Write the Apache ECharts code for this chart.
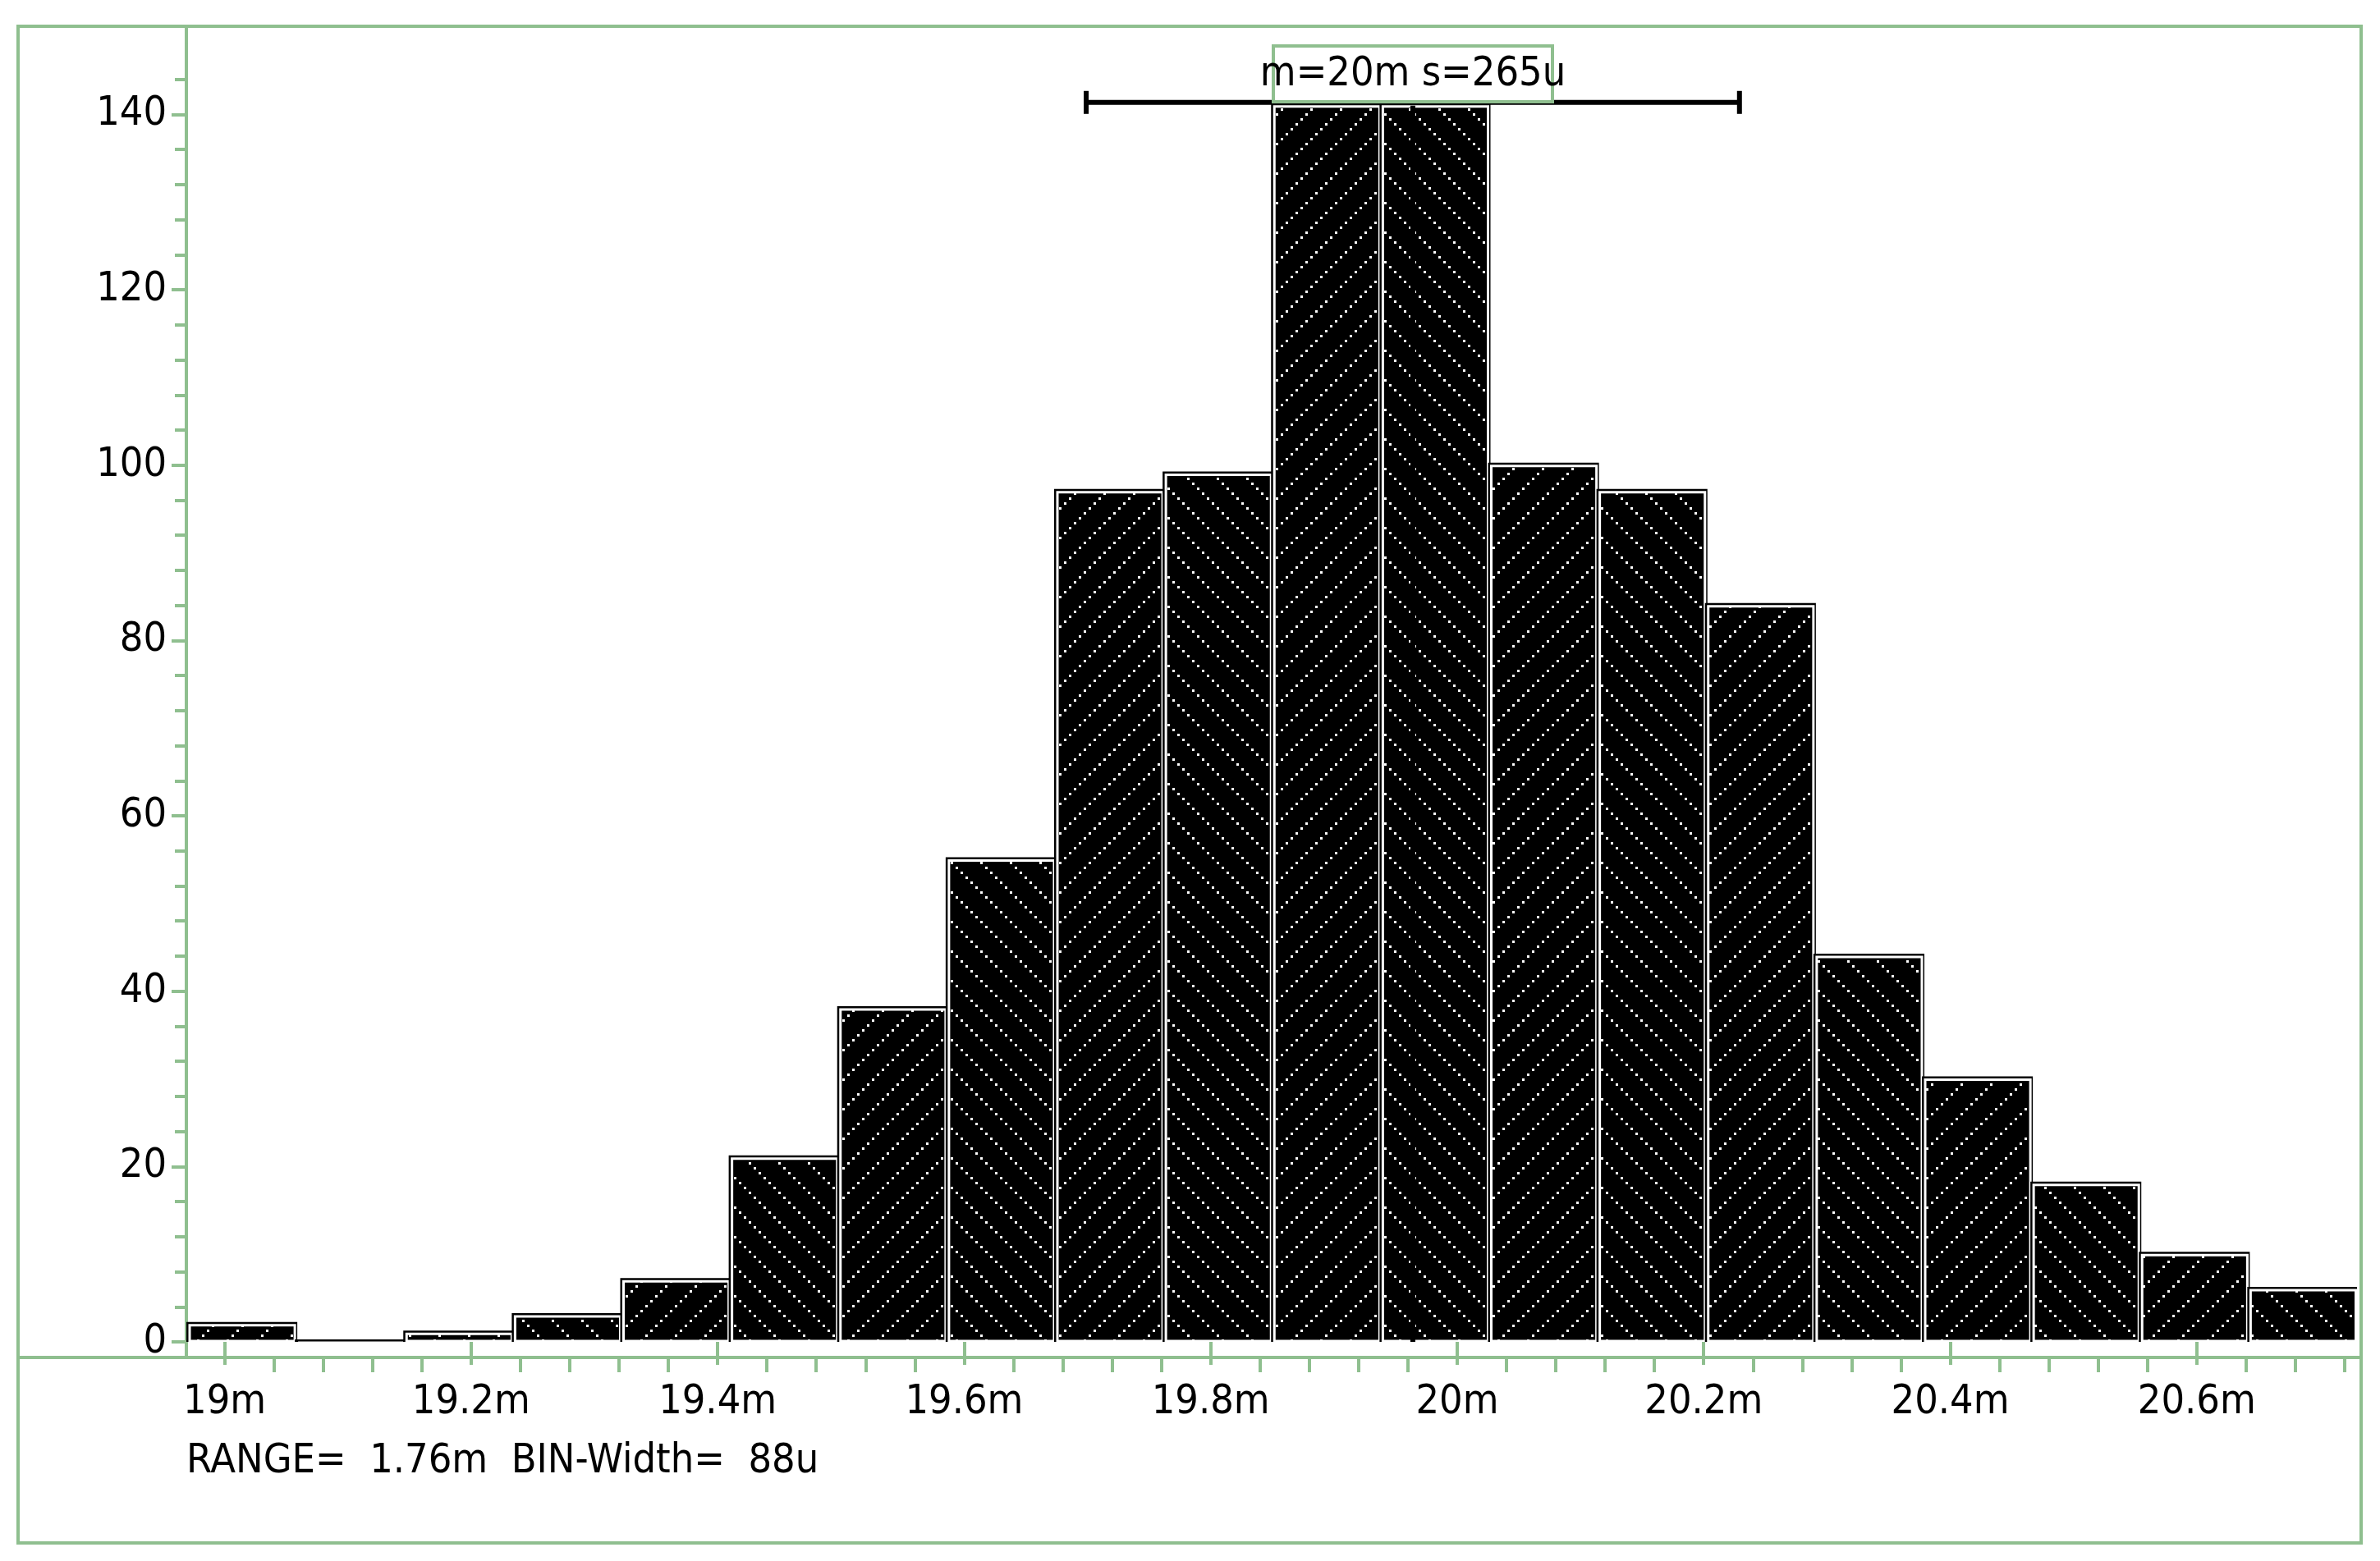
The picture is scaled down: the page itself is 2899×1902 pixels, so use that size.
<!DOCTYPE html>
<html>
<head>
<meta charset="utf-8">
<script src="https://cdn.jsdelivr.net/npm/echarts@6/dist/echarts.min.js"></script>
<style>
html,body{margin:0;padding:0;background:#fff;}
#chart1{width:2899px;height:1902px;}
</style>
</head>
<body>
<div id="chart1"></div>
<script>
// 直方图数据 (单位: m)
var binStart = 18.969;
var binWidth = 0.088;
var counts = [2, 0, 1, 3, 7, 21, 38, 55, 97, 99, 141, 141, 100, 97, 84, 44, 30, 18, 10, 6];
var meanVal = 19.964;
var sigmaVal = 0.265;
var errTop = 141;
var yTicks = [0, 20, 40, 60, 80, 100, 120, 140];
var xTicks = [19, 19.2, 19.4, 19.6, 19.8, 20, 20.2, 20.4, 20.6];
var xMinorTicks = [19.04, 19.08, 19.12, 19.16, 19.24, 19.28, 19.32, 19.36, 19.44, 19.48, 19.52, 19.56,
    19.64, 19.68, 19.72, 19.76, 19.84, 19.88, 19.92, 19.96, 20.04, 20.08, 20.12, 20.16,
    20.24, 20.28, 20.32, 20.36, 20.44, 20.48, 20.52, 20.56, 20.64, 20.68, 20.72];

var green = '#8fbf8f';
var font = '"Liberation Sans Narrow","DejaVu Sans Condensed","Liberation Sans",sans-serif';
var xMin = binStart, xMax = 20.730;

// 斜线填充
function makeHatch(dir){
    var c = document.createElement('canvas');
    c.width = 36; c.height = 36;
    var g = c.getContext('2d');
    g.fillStyle = '#000';
    g.fillRect(0, 0, 36, 36);
    g.fillStyle = '#fff';
    for (var k = -36; k <= 36; k += 36) {
        for (var t = 0; t < 36; t += 6) {
            var x = dir > 0 ? t + k : 36 - t + k;
            g.fillRect(x, t, 3, 3);
        }
    }
    return c;
}
var hatchA = makeHatch(1);
var hatchB = makeHatch(-1);

var barData = counts.map(function(v, i){
    return [binStart + i * binWidth, binStart + (i + 1) * binWidth, v, i];
});

var option = {
    animation: false,
    grid: {left: 227, right: 28, top: 54, bottom: 267},
    graphic: [
        {type: 'rect', shape: {x: 22, y: 32, width: 2854, height: 1848}, style: {fill: null, stroke: green, lineWidth: 4}, silent: true},
        {type: 'line', shape: {x1: 22, y1: 1654, x2: 2876, y2: 1654}, style: {stroke: green, lineWidth: 4}},
        {type: 'line', shape: {x1: 227, y1: 34, x2: 227, y2: 1654}, style: {stroke: green, lineWidth: 4}},
        {type: 'text', left: 227, top: 1756, style: {text: 'RANGE=  1.76m  BIN-Width=  88u', font: '50px ' + font, fill: '#000'}},
        {type: 'rect', shape: {x: 1551, y: 56, width: 340, height: 68}, style: {fill: '#fff', stroke: green, lineWidth: 4}, z: 20},
        {type: 'text', x: 1721, y: 91, style: {text: 'm=20m s=265u', font: '50px ' + font, fill: '#000', align: 'center', verticalAlign: 'middle'}, z: 21}
    ],
    xAxis: [{
        type: 'value', min: xMin, max: xMax, offset: 19,
        axisLine: {show: false},
        axisTick: {show: true, length: 28, lineStyle: {color: green, width: 4}, customValues: xTicks},
        axisLabel: {margin: 30, fontSize: 50, fontFamily: font, color: '#000',
            customValues: xTicks,
            formatter: function(v){ return (+v.toFixed(1)) + 'm'; }},
        splitLine: {show: false}
    }, {
        type: 'value', min: xMin, max: xMax, offset: 19, position: 'bottom',
        axisLine: {show: false},
        axisTick: {show: true, length: 18, lineStyle: {color: green, width: 4}, customValues: xMinorTicks},
        axisLabel: {show: false},
        splitLine: {show: false}
    }],
    yAxis: {
        type: 'value', min: 0, max: 148, interval: 20,
        axisLine: {show: true, lineStyle: {color: green, width: 4}},
        axisTick: {show: true, length: 18, lineStyle: {color: green, width: 4}, customValues: yTicks},
        minorTick: {show: true, splitNumber: 5, length: 14, lineStyle: {color: green, width: 4}},
        axisLabel: {margin: 24, fontSize: 50, fontFamily: font, color: '#000', customValues: yTicks},
        splitLine: {show: false}
    },
    series: [
        {
            type: 'custom',
            data: barData,
            encode: {x: [0, 1], y: 2},
            clip: true,
            renderItem: function(params, api){
                var p0 = api.coord([api.value(0), 0]);
                var p1 = api.coord([api.value(1), api.value(2)]);
                var x = p0[0], w = p1[0] - p0[0];
                var y = p1[1], h = p0[1] - p1[1];
                var pat = api.value(3) % 2 === 0 ? hatchB : hatchA;
                return {
                    type: 'group',
                    children: [
                        {type: 'rect', shape: {x: x, y: y - 3, width: w + 3, height: h + 6}, style: {fill: '#000'}},
                        {type: 'rect', shape: {x: x + 4, y: y + 1, width: w - 4, height: Math.max(h - 2, 0)},
                            style: {fill: {image: pat, repeat: 'repeat'}, stroke: '#fff', lineWidth: 3}}
                    ]
                };
            }
        },
        {
            type: 'custom',
            data: [[meanVal - sigmaVal, meanVal + sigmaVal, errTop, meanVal]],
            encode: {x: [0, 1], y: 2},
            z: 10,
            renderItem: function(params, api){
                var a = api.coord([api.value(0), api.value(2)]);
                var b = api.coord([api.value(1), api.value(2)]);
                var m0 = api.coord([api.value(3), 0]);
                var m1 = api.coord([api.value(3), api.value(2)]);
                var st = {stroke: '#000', lineWidth: 6};
                return {
                    type: 'group',
                    children: [
                        {type: 'line', shape: {x1: a[0], y1: a[1] - 4, x2: b[0], y2: b[1] - 4}, style: st},
                        {type: 'line', shape: {x1: a[0], y1: a[1] - 18, x2: a[0], y2: a[1] + 10}, style: st},
                        {type: 'line', shape: {x1: b[0], y1: b[1] - 18, x2: b[0], y2: b[1] + 10}, style: st},
                        {type: 'line', shape: {x1: m0[0], y1: m0[1], x2: m1[0], y2: m1[1]}, style: {stroke: '#000', lineWidth: 6}}
                    ]
                };
            }
        }
    ]
};
var chart = echarts.init(document.getElementById('chart1'));
chart.setOption(option);
</script>
</body>
</html>
